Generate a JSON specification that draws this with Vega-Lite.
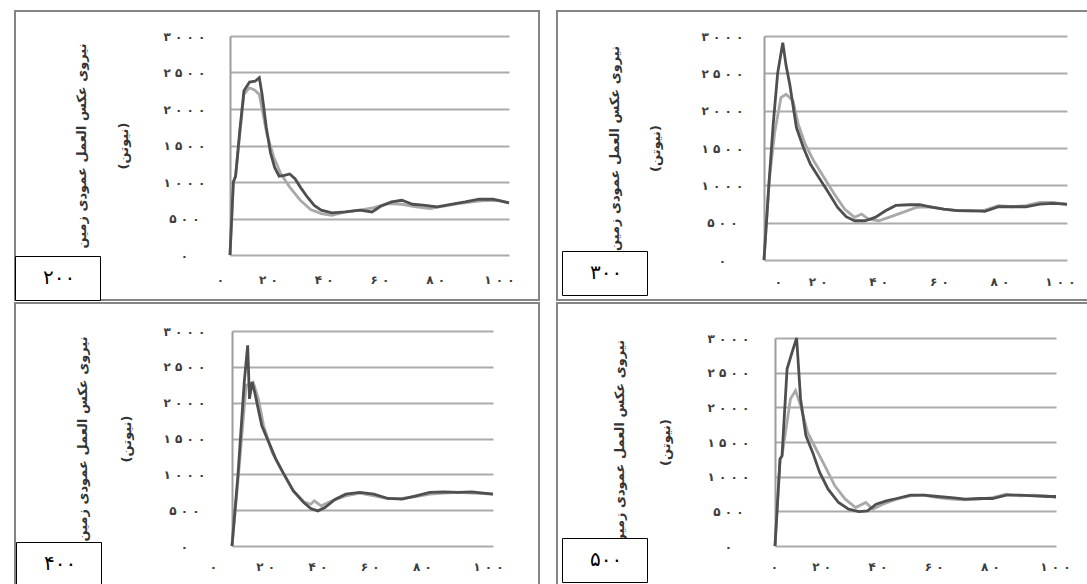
{
 "$schema": "https://vega.github.io/schema/vega-lite/v6.json",
 "padding": {"left": 13, "top": 10, "right": 0, "bottom": 0},
 "background": "white",
 "datasets": {
  "d": [
   {"p":"200","s":"a","x":0,"y":0},{"p":"200","s":"a","x":1.2,"y":1000},{"p":"200","s":"a","x":2,"y":1080},{"p":"200","s":"a","x":3.5,"y":1700},{"p":"200","s":"a","x":5,"y":2250},{"p":"200","s":"a","x":7,"y":2370},{"p":"200","s":"a","x":9,"y":2380},{"p":"200","s":"a","x":10.5,"y":2430},{"p":"200","s":"a","x":11.5,"y":2200},{"p":"200","s":"a","x":13,"y":1750},{"p":"200","s":"a","x":14.5,"y":1400},{"p":"200","s":"a","x":16,"y":1200},{"p":"200","s":"a","x":17.6,"y":1080},{"p":"200","s":"a","x":19.5,"y":1090},{"p":"200","s":"a","x":21.4,"y":1110},{"p":"200","s":"a","x":23.3,"y":1045},{"p":"200","s":"a","x":25.2,"y":930},{"p":"200","s":"a","x":27.7,"y":795},{"p":"200","s":"a","x":30.2,"y":680},{"p":"200","s":"a","x":32.7,"y":615},{"p":"200","s":"a","x":36.5,"y":577},{"p":"200","s":"a","x":41.5,"y":590},{"p":"200","s":"a","x":46.5,"y":614},{"p":"200","s":"a","x":50.9,"y":590},{"p":"200","s":"a","x":54,"y":668},{"p":"200","s":"a","x":57.9,"y":727},{"p":"200","s":"a","x":61.6,"y":750},{"p":"200","s":"a","x":65.4,"y":695},{"p":"200","s":"a","x":69.2,"y":682},{"p":"200","s":"a","x":74.2,"y":659},{"p":"200","s":"a","x":79.2,"y":695},{"p":"200","s":"a","x":84.3,"y":727},{"p":"200","s":"a","x":89.3,"y":764},{"p":"200","s":"a","x":94.3,"y":764},{"p":"200","s":"a","x":100,"y":714},
   {"p":"200","s":"b","x":0,"y":0},{"p":"200","s":"b","x":1.2,"y":1000},{"p":"200","s":"b","x":2,"y":1080},{"p":"200","s":"b","x":3.5,"y":1650},{"p":"200","s":"b","x":5,"y":2200},{"p":"200","s":"b","x":6.9,"y":2290},{"p":"200","s":"b","x":8.8,"y":2260},{"p":"200","s":"b","x":10.5,"y":2200},{"p":"200","s":"b","x":11.5,"y":2000},{"p":"200","s":"b","x":13.2,"y":1660},{"p":"200","s":"b","x":15.7,"y":1340},{"p":"200","s":"b","x":18.2,"y":1114},{"p":"200","s":"b","x":21.4,"y":930},{"p":"200","s":"b","x":25.2,"y":750},{"p":"200","s":"b","x":28.9,"y":623},{"p":"200","s":"b","x":32.7,"y":568},{"p":"200","s":"b","x":36.5,"y":545},{"p":"200","s":"b","x":41.5,"y":590},{"p":"200","s":"b","x":46.5,"y":614},{"p":"200","s":"b","x":51.6,"y":650},{"p":"200","s":"b","x":56.6,"y":705},{"p":"200","s":"b","x":61.6,"y":695},{"p":"200","s":"b","x":66.7,"y":659},{"p":"200","s":"b","x":71.7,"y":636},{"p":"200","s":"b","x":76.7,"y":668},{"p":"200","s":"b","x":81.8,"y":705},{"p":"200","s":"b","x":86.8,"y":727},{"p":"200","s":"b","x":91.8,"y":750},{"p":"200","s":"b","x":96.9,"y":741},{"p":"200","s":"b","x":100,"y":714},
   {"p":"300","s":"a","x":0,"y":0},{"p":"300","s":"a","x":1.7,"y":1060},{"p":"300","s":"a","x":3,"y":1800},{"p":"300","s":"a","x":4.5,"y":2500},{"p":"300","s":"a","x":6.2,"y":2911},{"p":"300","s":"a","x":7.3,"y":2600},{"p":"300","s":"a","x":8.5,"y":2354},{"p":"300","s":"a","x":10.7,"y":1774},{"p":"300","s":"a","x":13,"y":1507},{"p":"300","s":"a","x":15.3,"y":1284},{"p":"300","s":"a","x":18.1,"y":1106},{"p":"300","s":"a","x":20.9,"y":927},{"p":"300","s":"a","x":24.3,"y":704},{"p":"300","s":"a","x":27.1,"y":580},{"p":"300","s":"a","x":29.9,"y":526},{"p":"300","s":"a","x":33.3,"y":526},{"p":"300","s":"a","x":36.7,"y":571},{"p":"300","s":"a","x":40.1,"y":660},{"p":"300","s":"a","x":43.5,"y":731},{"p":"300","s":"a","x":48,"y":740},{"p":"300","s":"a","x":51.4,"y":740},{"p":"300","s":"a","x":54.8,"y":713},{"p":"300","s":"a","x":59.3,"y":682},{"p":"300","s":"a","x":63.8,"y":660},{"p":"300","s":"a","x":68.4,"y":660},{"p":"300","s":"a","x":72.9,"y":651},{"p":"300","s":"a","x":77.4,"y":713},{"p":"300","s":"a","x":81.9,"y":713},{"p":"300","s":"a","x":86.4,"y":713},{"p":"300","s":"a","x":91,"y":749},{"p":"300","s":"a","x":95.5,"y":758},{"p":"300","s":"a","x":100,"y":749},
   {"p":"300","s":"b","x":0,"y":0},{"p":"300","s":"b","x":1.7,"y":1060},{"p":"300","s":"b","x":3.5,"y":1700},{"p":"300","s":"b","x":5.6,"y":2175},{"p":"300","s":"b","x":7.3,"y":2220},{"p":"300","s":"b","x":9.6,"y":2131},{"p":"300","s":"b","x":11.3,"y":1819},{"p":"300","s":"b","x":13.6,"y":1551},{"p":"300","s":"b","x":16.4,"y":1328},{"p":"300","s":"b","x":19.8,"y":1106},{"p":"300","s":"b","x":23.2,"y":883},{"p":"300","s":"b","x":26.6,"y":682},{"p":"300","s":"b","x":29.9,"y":571},{"p":"300","s":"b","x":32.2,"y":615},{"p":"300","s":"b","x":34.5,"y":548},{"p":"300","s":"b","x":37.9,"y":526},{"p":"300","s":"b","x":41.2,"y":571},{"p":"300","s":"b","x":45.8,"y":637},{"p":"300","s":"b","x":50.3,"y":704},{"p":"300","s":"b","x":54.8,"y":713},{"p":"300","s":"b","x":59.3,"y":682},{"p":"300","s":"b","x":63.8,"y":660},{"p":"300","s":"b","x":68.4,"y":651},{"p":"300","s":"b","x":72.9,"y":669},{"p":"300","s":"b","x":77.4,"y":727},{"p":"300","s":"b","x":81.9,"y":713},{"p":"300","s":"b","x":86.4,"y":727},{"p":"300","s":"b","x":91,"y":771},{"p":"300","s":"b","x":95.5,"y":771},{"p":"300","s":"b","x":100,"y":740},
   {"p":"400","s":"a","x":0,"y":0},{"p":"400","s":"a","x":2.3,"y":1000},{"p":"400","s":"a","x":4.7,"y":2286},{"p":"400","s":"a","x":6,"y":2800},{"p":"400","s":"a","x":6.7,"y":2053},{"p":"400","s":"a","x":7.7,"y":2286},{"p":"400","s":"a","x":8.7,"y":2146},{"p":"400","s":"a","x":11.4,"y":1680},{"p":"400","s":"a","x":14.1,"y":1446},{"p":"400","s":"a","x":16.8,"y":1213},{"p":"400","s":"a","x":19.5,"y":1027},{"p":"400","s":"a","x":23.5,"y":770},{"p":"400","s":"a","x":27.5,"y":607},{"p":"400","s":"a","x":30.2,"y":523},{"p":"400","s":"a","x":32.9,"y":490},{"p":"400","s":"a","x":35.6,"y":537},{"p":"400","s":"a","x":39.6,"y":653},{"p":"400","s":"a","x":43.6,"y":723},{"p":"400","s":"a","x":49,"y":747},{"p":"400","s":"a","x":54.4,"y":723},{"p":"400","s":"a","x":59.7,"y":663},{"p":"400","s":"a","x":65.1,"y":653},{"p":"400","s":"a","x":70.5,"y":700},{"p":"400","s":"a","x":75.8,"y":747},{"p":"400","s":"a","x":81.2,"y":756},{"p":"400","s":"a","x":86.6,"y":747},{"p":"400","s":"a","x":91.9,"y":756},{"p":"400","s":"a","x":100,"y":723},
   {"p":"400","s":"b","x":0,"y":0},{"p":"400","s":"b","x":2.5,"y":1000},{"p":"400","s":"b","x":5.4,"y":2240},{"p":"400","s":"b","x":8.1,"y":2286},{"p":"400","s":"b","x":10.1,"y":2053},{"p":"400","s":"b","x":12.1,"y":1680},{"p":"400","s":"b","x":15.4,"y":1306},{"p":"400","s":"b","x":19.5,"y":1027},{"p":"400","s":"b","x":23.5,"y":770},{"p":"400","s":"b","x":27.5,"y":616},{"p":"400","s":"b","x":30.2,"y":583},{"p":"400","s":"b","x":31.5,"y":630},{"p":"400","s":"b","x":34.2,"y":560},{"p":"400","s":"b","x":38.3,"y":630},{"p":"400","s":"b","x":43.6,"y":700},{"p":"400","s":"b","x":49,"y":737},{"p":"400","s":"b","x":54.4,"y":700},{"p":"400","s":"b","x":59.7,"y":663},{"p":"400","s":"b","x":65.1,"y":663},{"p":"400","s":"b","x":70.5,"y":690},{"p":"400","s":"b","x":75.8,"y":723},{"p":"400","s":"b","x":81.2,"y":737},{"p":"400","s":"b","x":86.6,"y":747},{"p":"400","s":"b","x":91.9,"y":737},{"p":"400","s":"b","x":100,"y":723},
   {"p":"500","s":"a","x":0,"y":0},{"p":"500","s":"a","x":1.8,"y":1254},{"p":"500","s":"a","x":2.5,"y":1300},{"p":"500","s":"a","x":4.3,"y":2556},{"p":"500","s":"a","x":6.1,"y":2797},{"p":"500","s":"a","x":7.7,"y":3000},{"p":"500","s":"a","x":9.1,"y":2122},{"p":"500","s":"a","x":11,"y":1592},{"p":"500","s":"a","x":13.4,"y":1350},{"p":"500","s":"a","x":15.9,"y":1061},{"p":"500","s":"a","x":18.9,"y":820},{"p":"500","s":"a","x":22.6,"y":627},{"p":"500","s":"a","x":26.2,"y":531},{"p":"500","s":"a","x":29.9,"y":497},{"p":"500","s":"a","x":32.9,"y":506},{"p":"500","s":"a","x":36,"y":603},{"p":"500","s":"a","x":39.6,"y":651},{"p":"500","s":"a","x":43.3,"y":685},{"p":"500","s":"a","x":48.2,"y":733},{"p":"500","s":"a","x":53,"y":733},{"p":"500","s":"a","x":57.9,"y":714},{"p":"500","s":"a","x":62.8,"y":699},{"p":"500","s":"a","x":67.7,"y":675},{"p":"500","s":"a","x":72.6,"y":685},{"p":"500","s":"a","x":77.4,"y":685},{"p":"500","s":"a","x":82.3,"y":733},{"p":"500","s":"a","x":87.2,"y":733},{"p":"500","s":"a","x":92.1,"y":723},{"p":"500","s":"a","x":97,"y":714},{"p":"500","s":"a","x":100,"y":714},
   {"p":"500","s":"b","x":0,"y":0},{"p":"500","s":"b","x":1.8,"y":1254},{"p":"500","s":"b","x":2.5,"y":1300},{"p":"500","s":"b","x":5.5,"y":2122},{"p":"500","s":"b","x":7.3,"y":2243},{"p":"500","s":"b","x":9.1,"y":2026},{"p":"500","s":"b","x":11.6,"y":1640},{"p":"500","s":"b","x":14.6,"y":1399},{"p":"500","s":"b","x":17.7,"y":1158},{"p":"500","s":"b","x":21.3,"y":868},{"p":"500","s":"b","x":25,"y":675},{"p":"500","s":"b","x":28.7,"y":555},{"p":"500","s":"b","x":32.3,"y":627},{"p":"500","s":"b","x":34.8,"y":531},{"p":"500","s":"b","x":38.4,"y":603},{"p":"500","s":"b","x":43.3,"y":675},{"p":"500","s":"b","x":48.2,"y":723},{"p":"500","s":"b","x":53,"y":733},{"p":"500","s":"b","x":57.9,"y":699},{"p":"500","s":"b","x":62.8,"y":675},{"p":"500","s":"b","x":67.7,"y":666},{"p":"500","s":"b","x":72.6,"y":675},{"p":"500","s":"b","x":77.4,"y":699},{"p":"500","s":"b","x":82.3,"y":748},{"p":"500","s":"b","x":87.2,"y":723},{"p":"500","s":"b","x":92.1,"y":733},{"p":"500","s":"b","x":97,"y":723},{"p":"500","s":"b","x":100,"y":699}
  ]
 },
 "spacing": 0,
 "vconcat": [
  {"spacing": 16, "resolve": {"scale": {"opacity": "independent"}, "legend": {"opacity": "independent"}}, "hconcat": [
   {
    "width": 524, "height": 289,
    "data": {"name": "d"},
    "transform": [{"filter": "datum.p=='200'"}],
    "encoding": {
     "x": {"field": "x", "type": "quantitative", "scale": {"domain": [0, 100], "range": [215, 494], "nice": false, "zero": false},
      "axis": {"values": [0, 20, 40, 60, 80, 100], "labelExpr": "datum.value==0?'۰':datum.value==20?'۲ ۰':datum.value==40?'۴ ۰':datum.value==60?'۶ ۰':datum.value==80?'۸ ۰':'۱ ۰ ۰'", "offset": -45, "domain": false, "ticks": false, "grid": false, "labelPadding": 19, "labelOffset": {"condition": {"test": "datum.value==0 || datum.value==100", "value": -10}, "value": -18}, "labelFlush": false, "labelOverlap": false, "labelFont": "DejaVu Sans", "labelFontSize": 12, "labelFontWeight": "bold", "labelColor": "#3c3c3c", "title": null}},
     "y": {"field": "y", "type": "quantitative", "scale": {"domain": [0, 3000], "range": [244, 25], "nice": false, "zero": false},
      "axis": {"values": [0, 500, 1000, 1500, 2000, 2500, 3000], "labelExpr": "datum.value==0?'۰':datum.value==500?'۵ ۰ ۰':datum.value==1000?'۱ ۰ ۰ ۰':datum.value==1500?'۱ ۵ ۰ ۰':datum.value==2000?'۲ ۰ ۰ ۰':datum.value==2500?'۲ ۵ ۰ ۰':'۳ ۰ ۰ ۰'", "offset": -215, "ticks": false, "labelAlign": "center", "labelBaseline": "middle", "labelPadding": 46, "labelOverlap": false, "domain": true, "domainColor": "#9c9c9c", "domainWidth": 2, "grid": true, "gridColor": "#ababab", "gridWidth": 1.8, "labelFont": "DejaVu Sans", "labelFontSize": 12, "labelFontWeight": "bold", "labelColor": "#3c3c3c", "title": ["نیروی عکس العمل عمودی زمین", "(نیوتن)"], "titleFont": "DejaVu Sans", "titleFontSize": 13, "titleFontWeight": "bold", "titleColor": "#333333", "titleLineHeight": 42, "titlePadding": 33}},
     "opacity": {"field": "p", "type": "nominal", "scale": {"range": [1, 1]},
      "legend": {"orient": "bottom-left", "offset": 0, "title": " ", "titleOrient": "right", "titlePadding": 13, "padding": 12, "strokeColor": "black", "fillColor": "white", "labelFont": "DejaVu Sans", "labelFontSize": 20, "labelColor": "black", "labelOffset": -4, "labelExpr": "'۲۰۰'", "symbolSize": 0, "symbolOpacity": 0, "symbolStrokeWidth": 0}}
    },
    "layer": [
     {"transform": [{"filter": "datum.s=='b'"}], "mark": {"type": "line", "color": "#a9a9a9", "strokeWidth": 2.8}},
     {"transform": [{"filter": "datum.s=='a'"}], "mark": {"type": "line", "color": "#4f4f4f", "strokeWidth": 2.8}}
    ]
   },
   {
    "width": 532, "height": 289,
    "data": {"name": "d"},
    "transform": [{"filter": "datum.p=='300'"}],
    "encoding": {
     "x": {"field": "x", "type": "quantitative", "scale": {"domain": [0, 100], "range": [207, 510], "nice": false, "zero": false},
      "axis": {"values": [0, 20, 40, 60, 80, 100], "labelExpr": "datum.value==0?'۰':datum.value==20?'۲ ۰':datum.value==40?'۴ ۰':datum.value==60?'۶ ۰':datum.value==80?'۸ ۰':'۱ ۰ ۰'", "offset": -40, "domain": false, "ticks": false, "grid": false, "labelPadding": 16, "labelOffset": {"condition": {"test": "datum.value==0", "value": 14}, "value": -7}, "labelFlush": false, "labelOverlap": false, "labelFont": "DejaVu Sans", "labelFontSize": 12, "labelFontWeight": "bold", "labelColor": "#3c3c3c", "title": null}},
     "y": {"field": "y", "type": "quantitative", "scale": {"domain": [0, 3000], "range": [249, 25], "nice": false, "zero": false},
      "axis": {"values": [0, 500, 1000, 1500, 2000, 2500, 3000], "labelExpr": "datum.value==0?'۰':datum.value==500?'۵ ۰ ۰':datum.value==1000?'۱ ۰ ۰ ۰':datum.value==1500?'۱ ۵ ۰ ۰':datum.value==2000?'۲ ۰ ۰ ۰':datum.value==2500?'۲ ۵ ۰ ۰':'۳ ۰ ۰ ۰'", "offset": -207, "ticks": false, "labelAlign": "center", "labelBaseline": "middle", "labelPadding": 42, "labelOverlap": false, "domain": true, "domainColor": "#9c9c9c", "domainWidth": 2, "grid": true, "gridColor": "#ababab", "gridWidth": 1.8, "labelFont": "DejaVu Sans", "labelFontSize": 12, "labelFontWeight": "bold", "labelColor": "#3c3c3c", "title": ["نیروی عکس العمل عمودی زمین", "(نیوتن)"], "titleFont": "DejaVu Sans", "titleFontSize": 13, "titleFontWeight": "bold", "titleColor": "#333333", "titleLineHeight": 41, "titlePadding": 39}},
     "opacity": {"field": "p", "type": "nominal", "scale": {"range": [1, 1]},
      "legend": {"orient": "bottom-left", "offset": 5, "title": " ", "titleOrient": "right", "titlePadding": 13, "padding": 12, "strokeColor": "black", "fillColor": "white", "labelFont": "DejaVu Sans", "labelFontSize": 20, "labelColor": "black", "labelOffset": -4, "labelExpr": "'۳۰۰'", "symbolSize": 0, "symbolOpacity": 0, "symbolStrokeWidth": 0}}
    },
    "layer": [
     {"transform": [{"filter": "datum.s=='b'"}], "mark": {"type": "line", "color": "#a9a9a9", "strokeWidth": 2.8}},
     {"transform": [{"filter": "datum.s=='a'"}], "mark": {"type": "line", "color": "#4f4f4f", "strokeWidth": 2.8}}
    ]
   }
  ]},
  {"spacing": 16, "resolve": {"scale": {"opacity": "independent"}, "legend": {"opacity": "independent"}}, "hconcat": [
   {
    "width": 524, "height": 284,
    "data": {"name": "d"},
    "transform": [{"filter": "datum.p=='400'"}],
    "encoding": {
     "x": {"field": "x", "type": "quantitative", "scale": {"domain": [0, 100], "range": [217, 478], "nice": false, "zero": false},
      "axis": {"values": [0, 20, 40, 60, 80, 100], "labelExpr": "datum.value==0?'۰':datum.value==20?'۲ ۰':datum.value==40?'۴ ۰':datum.value==60?'۶ ۰':datum.value==80?'۸ ۰':'۱ ۰ ۰'", "offset": -41, "domain": false, "ticks": false, "grid": false, "labelPadding": 15, "labelOffset": {"condition": {"test": "datum.value==100", "value": -5}, "value": -19}, "labelFlush": false, "labelOverlap": false, "labelFont": "DejaVu Sans", "labelFontSize": 12, "labelFontWeight": "bold", "labelColor": "#3c3c3c", "title": null}},
     "y": {"field": "y", "type": "quantitative", "scale": {"domain": [0, 3000], "range": [243, 28], "nice": false, "zero": false},
      "axis": {"values": [0, 500, 1000, 1500, 2000, 2500, 3000], "labelExpr": "datum.value==0?'۰':datum.value==500?'۵ ۰ ۰':datum.value==1000?'۱ ۰ ۰ ۰':datum.value==1500?'۱ ۵ ۰ ۰':datum.value==2000?'۲ ۰ ۰ ۰':datum.value==2500?'۲ ۵ ۰ ۰':'۳ ۰ ۰ ۰'", "offset": -217, "ticks": false, "labelAlign": "center", "labelBaseline": "middle", "labelPadding": 48, "labelOverlap": false, "domain": true, "domainColor": "#9c9c9c", "domainWidth": 2, "grid": true, "gridColor": "#ababab", "gridWidth": 1.8, "labelFont": "DejaVu Sans", "labelFontSize": 12, "labelFontWeight": "bold", "labelColor": "#3c3c3c", "title": ["نیروی عکس العمل عمودی زمین", "(نیوتن)"], "titleFont": "DejaVu Sans", "titleFontSize": 13, "titleFontWeight": "bold", "titleColor": "#333333", "titleLineHeight": 44, "titlePadding": 30}},
     "opacity": {"field": "p", "type": "nominal", "scale": {"range": [1, 1]},
      "legend": {"orient": "bottom-left", "offset": 1, "title": " ", "titleOrient": "right", "titlePadding": 13, "padding": 12, "strokeColor": "black", "fillColor": "white", "labelFont": "DejaVu Sans", "labelFontSize": 20, "labelColor": "black", "labelOffset": -4, "labelExpr": "'۴۰۰'", "symbolSize": 0, "symbolOpacity": 0, "symbolStrokeWidth": 0}}
    },
    "layer": [
     {"transform": [{"filter": "datum.s=='b'"}], "mark": {"type": "line", "color": "#a9a9a9", "strokeWidth": 2.8}},
     {"transform": [{"filter": "datum.s=='a'"}], "mark": {"type": "line", "color": "#4f4f4f", "strokeWidth": 2.8}}
    ]
   },
   {
    "width": 532, "height": 284,
    "data": {"name": "d"},
    "transform": [{"filter": "datum.p=='500'"}],
    "encoding": {
     "x": {"field": "x", "type": "quantitative", "scale": {"domain": [0, 100], "range": [218, 499], "nice": false, "zero": false},
      "axis": {"values": [0, 20, 40, 60, 80, 100], "labelExpr": "datum.value==0?'۰':datum.value==20?'۲ ۰':datum.value==40?'۴ ۰':datum.value==60?'۶ ۰':datum.value==80?'۸ ۰':'۱ ۰ ۰'", "offset": -41, "domain": false, "ticks": false, "grid": false, "labelPadding": 15, "labelOffset": {"condition": {"test": "datum.value==0 || datum.value==100", "value": -1}, "value": -10}, "labelFlush": false, "labelOverlap": false, "labelFont": "DejaVu Sans", "labelFontSize": 12, "labelFontWeight": "bold", "labelColor": "#3c3c3c", "title": null}},
     "y": {"field": "y", "type": "quantitative", "scale": {"domain": [0, 3000], "range": [243, 35], "nice": false, "zero": false},
      "axis": {"values": [0, 500, 1000, 1500, 2000, 2500, 3000], "labelExpr": "datum.value==0?'۰':datum.value==500?'۵ ۰ ۰':datum.value==1000?'۱ ۰ ۰ ۰':datum.value==1500?'۱ ۵ ۰ ۰':datum.value==2000?'۲ ۰ ۰ ۰':datum.value==2500?'۲ ۵ ۰ ۰':'۳ ۰ ۰ ۰'", "offset": -218, "ticks": false, "labelAlign": "center", "labelBaseline": "middle", "labelPadding": 47, "labelOverlap": false, "domain": true, "domainColor": "#9c9c9c", "domainWidth": 2, "grid": true, "gridColor": "#ababab", "gridWidth": 1.8, "labelFont": "DejaVu Sans", "labelFontSize": 12, "labelFontWeight": "bold", "labelColor": "#3c3c3c", "title": ["نیروی عکس العمل عمودی زمین", "(نیوتن)"], "titleFont": "DejaVu Sans", "titleFontSize": 13, "titleFontWeight": "bold", "titleColor": "#333333", "titleLineHeight": 46, "titlePadding": 35}},
     "opacity": {"field": "p", "type": "nominal", "scale": {"range": [1, 1]},
      "legend": {"orient": "bottom-left", "offset": 5, "title": " ", "titleOrient": "right", "titlePadding": 13, "padding": 12, "strokeColor": "black", "fillColor": "white", "labelFont": "DejaVu Sans", "labelFontSize": 20, "labelColor": "black", "labelOffset": -4, "labelExpr": "'۵۰۰'", "symbolSize": 0, "symbolOpacity": 0, "symbolStrokeWidth": 0}}
    },
    "layer": [
     {"transform": [{"filter": "datum.s=='b'"}], "mark": {"type": "line", "color": "#a9a9a9", "strokeWidth": 2.8}},
     {"transform": [{"filter": "datum.s=='a'"}], "mark": {"type": "line", "color": "#4f4f4f", "strokeWidth": 2.8}}
    ]
   }
  ]}
 ],
 "resolve": {"scale": {"opacity": "independent"}, "legend": {"opacity": "independent"}},
 "config": {
  "view": {"stroke": "#858585", "strokeWidth": 2},
  "font": "DejaVu Sans"
 }
}
